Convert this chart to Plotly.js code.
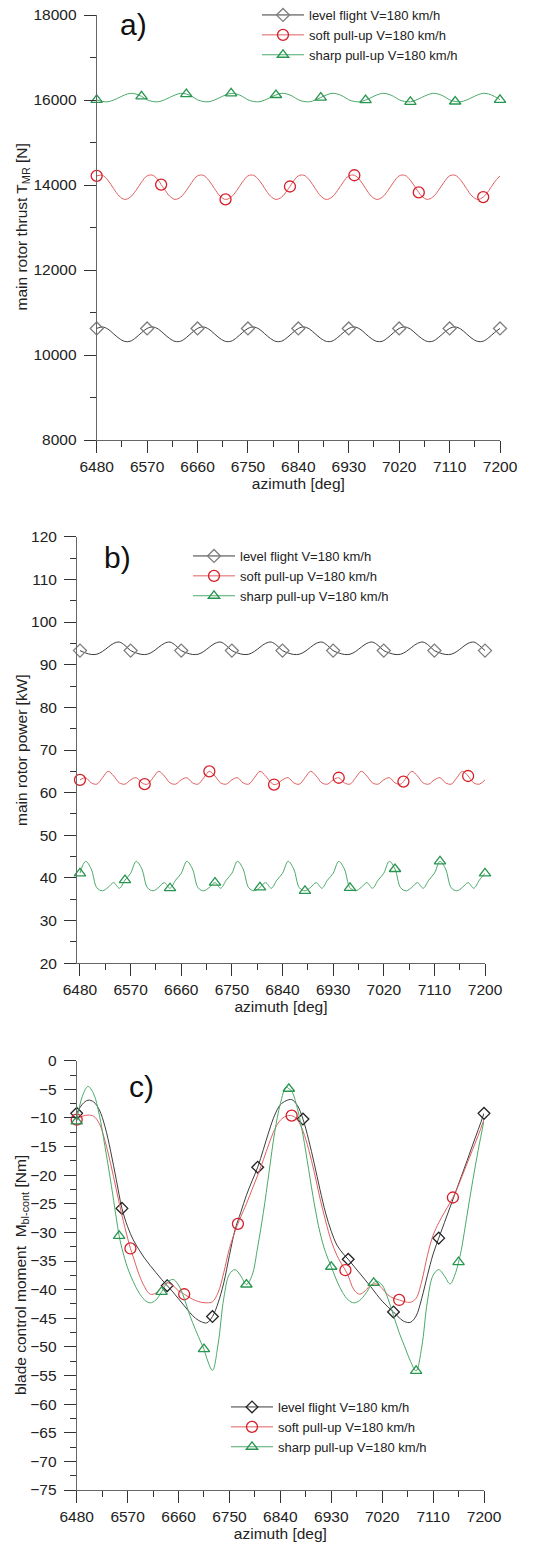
<!DOCTYPE html>
<html><head><meta charset="utf-8">
<script src="https://cdn.plot.ly/plotly-3.0.1.min.js"></script>
<style>html,body{margin:0;padding:0;background:#fff}#chart{width:551px;height:1550px}</style>
</head><body><div id="chart"></div>
<script>
// ---------- azimuth grids [deg] ----------
const AZ = [6480,6490,6500,6510,6520,6530,6540,6550,6560,
6570,6580,6590,6600,6610,6620,6630,6640,6650,
6660,6670,6680,6690,6700,6710,6720,6730,6740,
6750,6760,6770,6780,6790,6800,6810,6820,6830,
6840,6850,6860,6870,6880,6890,6900,6910,6920,
6930,6940,6950,6960,6970,6980,6990,7000,7010,
7020,7030,7040,7050,7060,7070,7080,7090,7100,
7110,7120,7130,7140,7150,7160,7170,7180,7190,
7200];
const AZ_SOFT_AB = [6480,6490,6500,6510,6520,6530,6540,6550,6560,
6570,6580,6590,6595,6600,6610,6620,6630,6640,6650,
6660,6670,6680,6690,6700,6710,6720,6730,6740,
6750,6760,6770,6780,6790,6800,6810,6820,6825,6830,
6840,6850,6860,6870,6880,6890,6900,6910,6920,
6930,6940,6950,6960,6970,6980,6990,7000,7010,
7020,7030,7040,7050,7055,7060,7070,7080,7090,7100,
7110,7120,7130,7140,7150,7160,7170,7180,7190,
7200];
const AZ_SOFT_C = [6480,6490,6500,6510,6520,6530,6540,6550,6560,6570,6575,
6580,6590,6600,6610,6620,6630,6640,6650,6660,6670,6680,6690,6700,6710,6720,6730,6740,6750,6760,6765,
6770,6780,6790,6800,6810,6820,6830,6840,6850,6860,6870,6880,6890,6900,6910,6920,6930,6940,6950,6955,
6960,6970,6980,6990,7000,7010,7020,7030,7040,7050,7060,7070,7080,7090,7100,7110,7120,7130,7140,7145,
7150,7160,7170,7180,7190,7200];
const AZ_SHARP_C = [6480,6490,6500,6510,6520,6530,6540,6550,6555,
6560,6570,6580,6590,6600,6610,6620,6630,6640,6650,6660,6670,6680,6690,6700,6705,
6710,6720,6730,6740,6750,6760,6770,6780,6790,6800,6810,6820,6830,6840,6850,6855,
6860,6870,6880,6890,6900,6910,6920,6930,6940,6950,6960,6970,6980,6990,7000,7005,
7010,7020,7030,7040,7050,7060,7070,7080,7090,7100,7110,7120,7130,7140,7150,7155,
7160,7170,7180,7190,7200];

// ---------- marker azimuths ----------
const MK_LEVEL_AB = [6480,6570,6660,6750,6840,6930,7020,7110,7200];
const MK_SOFT_AB  = [6480,6595,6710,6825,6940,7055,7170];
const MK_SHARP_AB = [6480,6560,6640,6720,6800,6880,6960,7040,7120,7200];
const MK_LEVEL_C  = [6480,6560,6640,6720,6800,6880,6960,7040,7120,7200];
const MK_SOFT_C   = [6480,6575,6670,6765,6860,6955,7050,7145];
const MK_SHARP_C  = [6480,6555,6630,6705,6780,6855,6930,7005,7080,7155];

// ---------- a) main rotor thrust [N] ----------
const A_LEVEL = [
10625,10660,10610,10500,10390,10320,10325,10410,10525,
10625,10660,10610,10500,10390,10320,10325,10410,10525,
10625,10660,10610,10500,10390,10320,10325,10410,10525,
10625,10660,10610,10500,10390,10320,10325,10410,10525,
10625,10660,10610,10500,10390,10320,10325,10410,10525,
10625,10660,10610,10500,10390,10320,10325,10410,10525,
10625,10660,10610,10500,10390,10320,10325,10410,10525,
10625,10660,10610,10500,10390,10320,10325,10410,10525,
10625];
const A_SOFT = [
14215,14229,14112,13920,13741,13661,13715,13870,14065,
14215,14229,14112,14010,13920,13741,13661,13715,13870,14065,
14215,14229,14112,13920,13741,13661,13715,13870,14065,
14215,14229,14112,13920,13741,13661,13715,13870,13965,14065,
14215,14229,14112,13920,13741,13661,13715,13870,14065,
14215,14229,14112,13920,13741,13661,13715,13870,14065,
14215,14229,14112,13920,13825,13741,13661,13715,13870,14065,
14215,14229,14112,13920,13741,13661,13715,13870,14065,
14215];
const A_SHARP = [
16005,15965,15958,15998,16058,16118,16157,16140,16085,
16005,15965,15958,15998,16058,16118,16157,16140,16085,
16005,15965,15958,15998,16058,16118,16157,16140,16085,
16005,15965,15958,15998,16058,16118,16157,16140,16085,
16005,15965,15958,15998,16058,16118,16157,16140,16085,
16005,15965,15958,15998,16058,16118,16157,16140,16085,
16005,15965,15958,15998,16058,16118,16157,16140,16085,
16005,15965,15958,15998,16058,16118,16157,16140,16085,
16005];

// ---------- b) main rotor power [kW] ----------
const B_LEVEL = [
93.3,92.75,92.4,92.45,93.1,94.1,95.0,95.3,94.5,
93.3,92.75,92.4,92.45,93.1,94.1,95.0,95.3,94.5,
93.3,92.75,92.4,92.45,93.1,94.1,95.0,95.3,94.5,
93.3,92.75,92.4,92.45,93.1,94.1,95.0,95.3,94.5,
93.3,92.75,92.4,92.45,93.1,94.1,95.0,95.3,94.5,
93.3,92.75,92.4,92.45,93.1,94.1,95.0,95.3,94.5,
93.3,92.75,92.4,92.45,93.1,94.1,95.0,95.3,94.5,
93.3,92.75,92.4,92.45,93.1,94.1,95.0,95.3,94.5,
93.3];
const B_SOFT = [
63.0,63.5,62.3,62.0,63.5,65.0,63.9,62.3,62.0,
63.0,63.5,62.3,62.0,62.0,63.5,65.0,63.9,62.3,62.0,
63.0,63.5,62.3,62.0,63.5,65.0,63.9,62.3,62.0,
63.0,63.5,62.3,62.0,63.5,65.0,63.9,62.3,61.9,62.0,
63.0,63.5,62.3,62.0,63.5,65.0,63.9,62.3,62.0,
63.0,63.5,62.3,62.0,63.5,65.0,63.9,62.3,62.0,
63.0,63.5,62.3,62.0,62.6,63.5,65.0,63.9,62.3,62.0,
63.0,63.5,62.3,62.0,63.5,65.0,63.9,62.3,62.0,
63.0];
const B_SHARP = [
41.1,43.9,42.1,37.7,37.0,37.8,38.9,37.6,39.5,
41.1,43.9,42.1,37.7,37.0,37.8,38.9,37.6,39.5,
41.1,43.9,42.1,37.7,37.0,37.8,38.9,37.6,39.5,
41.1,43.9,42.1,37.7,37.0,37.8,38.9,37.6,39.5,
41.1,43.9,42.1,37.7,37.0,37.8,38.9,37.6,39.5,
41.1,43.9,42.1,37.7,37.0,37.8,38.9,37.6,39.5,
41.1,43.9,42.1,37.7,37.0,37.8,38.9,37.6,39.5,
41.1,43.9,42.1,37.7,37.0,37.8,38.9,37.6,39.5,
41.1];

// ---------- c) blade control moment [Nm] ----------
const C_LEVEL = [
-9.2,-7.6,-6.9,-7.2,-8.6,-11.5,-15.8,-20.8,-25.8,
-29,-31.3,-33,-34.5,-35.8,-37,-38.2,-39.3,-40.4,
-41.6,-42.8,-44,-45,-45.6,-45.8,-44.7,-42.3,-38.8,
-34,-29.5,-26.5,-23.5,-21,-18.6,-15.5,-12.3,-9.5,
-7.7,-7,-6.8,-7.8,-10.2,-13.8,-18,-22.5,-26.6,
-29.8,-32.2,-33.6,-34.7,-35.9,-37.1,-38.3,-39.5,-40.8,
-42,-43,-43.9,-44.9,-45.6,-45.7,-44.6,-41.5,-37.5,
-33.8,-31,-28.3,-25.6,-22.9,-20.2,-17.5,-14.7,-12,
-9.2];
const C_SOFT = [
-10.3,-9.7,-9.5,-9.7,-11,-14,-18,-22.5,-27,-31,-32.8,
-34.3,-37.3,-39.5,-40.8,-40.6,-39.5,-38.8,-39.3,-40.2,-40.8,-41.4,-41.9,-42.2,-42.3,-42.1,-40.5,-37,-32.8,-29.8,-28.5,
-27.3,-25,-22.5,-20,-17.3,-14.5,-12,-10.4,-9.7,-9.6,-10.3,-12.3,-15.5,-19.5,-24,-28,-31.5,-34,-35.8,-36.6,
-37.6,-40,-40.8,-40.2,-39.2,-39,-39.8,-40.9,-41.5,-41.8,-42.1,-42.2,-41.5,-38.5,-34,-30.5,-28.3,-26.5,-24.8,-23.9,
-22.9,-20.5,-18,-15.5,-13,-10.3];
const C_SHARP = [
-10.6,-6.2,-4.5,-5.8,-9.5,-15,-21,-27.5,-30.6,
-32.8,-36.2,-38.6,-40.5,-41.8,-42.3,-41.8,-40.4,-38.8,-38.2,-39.2,-41.5,-44.5,-47,-49.3,-50.4,
-52,-54.1,-49.5,-41.5,-37.3,-36.5,-37.6,-39.1,-37.5,-32.5,-26.5,-19.5,-12.5,-7.5,-4.6,-4.9,
-5.3,-8.3,-13,-19,-25,-30,-33.5,-36,-38.5,-40.5,-41.8,-42.3,-41.9,-40.8,-39.3,-38.8,
-38.5,-39.2,-41.5,-44.5,-47.5,-50,-52.5,-54.2,-50,-42,-37.5,-36.5,-37.6,-39,-37,-35.2,
-33,-27,-21,-15.5,-10.5];

const NAMES = ['level flight V=180 km/h', 'soft pull-up V=180 km/h', 'sharp pull-up V=180 km/h'];
const YTITLES = ['main rotor thrust T<sub>MR</sub> [N]', 'main rotor power [kW]', 'blade control moment  M<sub>bl-cont</sub> [Nm]'];
const PANEL_LABELS = ['a)', 'b)', 'c)'];
const FONT = 'Liberation Sans, Arial, sans-serif';

function series(x, y, mk, name, lineCol, mCol, sym, ax, lg, ms) {
  return {
    type: 'scatter', mode: 'lines+markers', x: x, y: y, name: name,
    xaxis: 'x' + ax, yaxis: 'y' + ax, legend: lg, cliponaxis: false,
    line: {color: lineCol, width: 1, shape: 'spline', smoothing: 1},
    marker: {symbol: sym, size: ms,
      color: x.map(v => mk.indexOf(v) >= 0 ? mCol : 'rgba(0,0,0,0)'),
      line: {width: 1.3}}
  };
}

const BLK = 'rgb(60,60,60)', BLKM = 'rgb(125,125,125)', BLKM3 = 'rgb(35,35,35)';
const RED = 'rgb(222,95,95)', REDM = 'rgb(214,30,40)';
const GRN = 'rgb(75,168,105)', GRNM = 'rgb(40,150,80)';

const data = [
  series(AZ, A_LEVEL, MK_LEVEL_AB, NAMES[0], BLK, BLKM, 'diamond-open', '', 'legend', 10),
  series(AZ_SOFT_AB, A_SOFT, MK_SOFT_AB, NAMES[1], RED, REDM, 'circle-open', '', 'legend', 11),
  series(AZ, A_SHARP, MK_SHARP_AB, NAMES[2], GRN, GRNM, 'triangle-up-open', '', 'legend', 10),
  series(AZ, B_LEVEL, MK_LEVEL_AB, NAMES[0], BLK, BLKM, 'diamond-open', '2', 'legend2', 10),
  series(AZ_SOFT_AB, B_SOFT, MK_SOFT_AB, NAMES[1], RED, REDM, 'circle-open', '2', 'legend2', 11),
  series(AZ, B_SHARP, MK_SHARP_AB, NAMES[2], GRN, GRNM, 'triangle-up-open', '2', 'legend2', 10),
  series(AZ, C_LEVEL, MK_LEVEL_C, NAMES[0], BLK, BLKM3, 'diamond-open', '3', 'legend3', 9),
  series(AZ_SOFT_C, C_SOFT, MK_SOFT_C, NAMES[1], RED, REDM, 'circle-open', '3', 'legend3', 11),
  series(AZ_SHARP_C, C_SHARP, MK_SHARP_C, NAMES[2], GRN, GRNM, 'triangle-up-open', '3', 'legend3', 10)
];

const W = 551, H = 1550;
const px = v => v / W, py = v => (H - v) / H;

function xax(dom, rng, anchor) {
  return {domain: dom, range: rng, anchor: anchor, tickmode: 'linear', tick0: 6480, dtick: 90,
    ticks: 'outside', ticklen: 12, tickwidth: 1, tickcolor: '#333', showline: true, linecolor: '#666',
    linewidth: 1, showgrid: false, zeroline: false, automargin: false,
    minor: {dtick: 45, tick0: 6480, ticks: 'outside', ticklen: 6, tickcolor: '#333', tickwidth: 1, showgrid: false},
    tickfont: {family: FONT, size: 15.5, color: '#222'},
    title: {text: 'azimuth [deg]', font: {family: FONT, size: 15.5, color: '#222'}, standoff: 3}};
}
function yax(dom, rng, anchor, dt, mdt, t0) {
  return {domain: dom, range: rng, anchor: anchor, tickmode: 'linear', tick0: t0, dtick: dt,
    tickformat: 'd',
    ticks: 'outside', ticklen: 12, tickwidth: 1, tickcolor: '#333', showline: true, linecolor: '#666',
    linewidth: 1, showgrid: false, zeroline: false, automargin: false, ticklabelstandoff: 4,
    minor: {dtick: mdt, tick0: t0, ticks: 'outside', ticklen: 6, tickcolor: '#333', tickwidth: 1, showgrid: false},
    tickfont: {family: FONT, size: 15.5, color: '#222'}};
}

function leg(x, y) {
  return {x: px(x), y: py(y), xanchor: 'left', yanchor: 'top', bgcolor: 'rgba(0,0,0,0)',
    borderwidth: 0, font: {family: FONT, size: 13, color: '#222'}, itemwidth: 42, tracegroupgap: 0};
}

function yTitle(i, x, y) {
  return {text: YTITLES[i], x: px(x), y: py(y), xref: 'paper', yref: 'paper', showarrow: false,
    textangle: -90, xanchor: 'center', yanchor: 'middle', font: {family: FONT, size: 15.5, color: '#222'}};
}
function panelLabel(i, x, y) {
  return {text: PANEL_LABELS[i], x: px(x), y: py(y), xref: 'paper', yref: 'paper', showarrow: false,
    xanchor: 'center', yanchor: 'middle', font: {family: FONT, size: 30, color: '#111'}};
}

const layout = {
  width: W, height: H, margin: {l: 0, r: 0, t: 0, b: 0},
  paper_bgcolor: '#fff', plot_bgcolor: '#fff', showlegend: true,
  font: {family: FONT, color: '#222'},
  xaxis: xax([px(96.7), px(500)], [6480, 7200], 'y'),
  yaxis: yax([py(440), py(15)], [8000, 18000], 'x', 2000, 1000, 8000),
  xaxis2: xax([px(77), px(485)], [6474.7, 7200], 'y2'),
  yaxis2: yax([py(963.3), py(536.7)], [20, 120], 'x2', 10, 5, 20),
  xaxis3: xax([px(76.7), px(484)], [6480, 7200], 'y3'),
  yaxis3: yax([py(1490), py(1060.7)], [-75, 0], 'x3', 5, 2.5, -75),
  legend: leg(257, 0),
  legend2: leg(188, 541),
  legend3: leg(226, 1392),
  annotations: [
    yTitle(0, 22, 227.5), yTitle(1, 21, 750), yTitle(2, 21, 1275),
    panelLabel(0, 133, 25), panelLabel(1, 117, 557), panelLabel(2, 141, 1086)
  ]
};

Plotly.newPlot('chart', data, layout, {staticPlot: true, displayModeBar: false});
</script>
</body></html>
